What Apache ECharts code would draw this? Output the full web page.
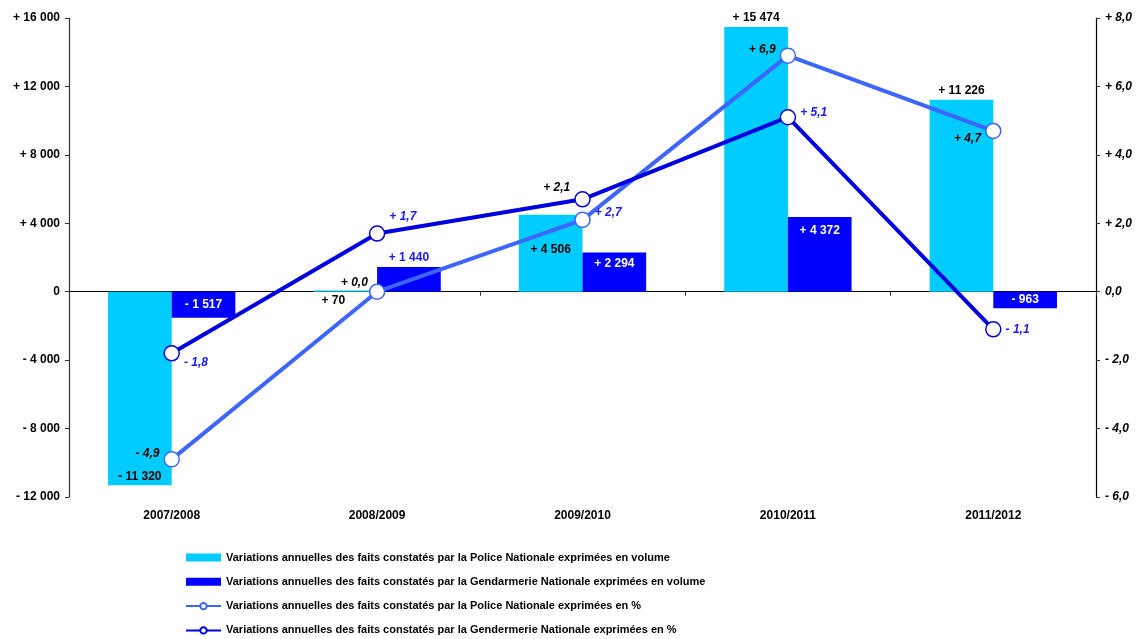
<!DOCTYPE html>
<html lang="fr">
<head>
    <meta charset="utf-8">
    <title>Variations annuelles des faits constatés</title>
    <style>
* {
  margin: 0;
  padding: 0;
}
#chart-container {
  position: relative;
  width: 1139px;
  height: 639px;
  overflow: hidden;
  background: #fff;
}
    </style>
</head>
<body>
<div id="chart-container"></div>
<script src="https://cdn.jsdelivr.net/npm/echarts@6/dist/echarts.min.js"></script>
<script>
// data
let years = ['2007/2008', '2008/2009', '2009/2010', '2010/2011', '2011/2012'];
let policeVol = [-11320, 70, 4506, 15474, 11226];
let gendVol = [-1517, 1440, 2294, 4372, -963];
let policePct = [-4.9, 0.0, 2.1, 6.9, 4.7];
let gendPct = [-1.8, 1.7, 2.7, 5.1, -1.1];

let names = [
  'Variations annuelles des faits constatés par la Police Nationale exprimées en volume',
  'Variations annuelles des faits constatés par la Gendarmerie Nationale exprimées en volume',
  'Variations annuelles des faits constatés par la Police Nationale exprimées en %',
  'Variations annuelles des faits constatés par la Gendermerie Nationale exprimées en %'
];

// label placement (style only)
let policeVolPos = [['insideBottom', [0, 0]], ['bottom', [-12, 0]], ['insideTop', [0, 26]], ['top', [0, 0]], ['top', [0, 0]]];
let gendVolPos = [['inside', [0, 0]], ['top', [0, 0]], ['insideTop', [0, 2]], ['insideTop', [0, 5]], ['inside', [0, 0]]];
let policePctOff = [[0, -6], [3, -9], [0, -32], [0, -6], [0, 8]];
let gendPctOff = [[0, 9], [0, -17], [0, 13], [0, -5], [0, 0]];

function groupThousands(n) {
  return String(n).replace(/\B(?=(\d{3})+(?!\d))/g, ' ');
}
function fmtVol(v) {
  if (v === 0) return '0';
  return (v > 0 ? '+ ' : '- ') + groupThousands(Math.abs(v));
}
function fmtPct(v, zeroPlain) {
  let s = Math.abs(v).toFixed(1).replace('.', ',');
  if (v === 0) return zeroPlain ? s : '+ ' + s;
  return (v > 0 ? '+ ' : '- ') + s;
}

let FONT = '"Liberation Sans", Arial, sans-serif';
let cPoliceBar = '#00ccff';
let cGendBar = '#0000ff';
let cPoliceLine = '#3d66ff';
let cGendLine = '#0000e0';

var dom = document.getElementById('chart-container');
var myChart = echarts.init(dom, null, { renderer: 'canvas' });

var option = {
  animation: false,
  textStyle: { fontFamily: FONT },
  grid: { left: 69, right: 43, top: 18, bottom: 142, containLabel: false },
  legend: {
    orient: 'vertical',
    left: 185,
    top: 552,
    height: 120,
    padding: 0,
    itemWidth: 35,
    itemHeight: 8,
    itemGap: 13.3,
    textStyle: { fontFamily: FONT, fontWeight: 'bold', fontSize: 11, color: '#000' },
    data: [
      { name: names[0], icon: 'rect' },
      { name: names[1], icon: 'rect' },
      { name: names[2] },
      { name: names[3] }
    ]
  },
  xAxis: [
    {
      type: 'category',
      data: years,
      position: 'bottom',
      axisLine: { show: false, onZero: false },
      axisTick: { show: false },
      axisLabel: { fontFamily: FONT, fontWeight: 'bold', fontSize: 12, color: '#000', margin: 13 }
    },
    {
      type: 'category',
      data: years,
      position: 'bottom',
      axisLine: { show: true, onZero: true, lineStyle: { color: '#000', width: 1.2 } },
      axisTick: { show: true, length: 4, lineStyle: { color: '#333' } },
      axisLabel: { show: false }
    }
  ],
  yAxis: [
    {
      type: 'value',
      min: -12000,
      max: 16000,
      interval: 4000,
      splitLine: { show: false },
      axisLine: { show: true, lineStyle: { color: '#333', width: 1.2 } },
      axisTick: { show: true, length: 4, lineStyle: { color: '#333' } },
      axisLabel: { fontFamily: FONT, fontWeight: 'bold', fontSize: 12, color: '#000', margin: 9, formatter: fmtVol }
    },
    {
      type: 'value',
      min: -6,
      max: 8,
      interval: 2,
      position: 'right',
      splitLine: { show: false },
      axisLine: { show: true, lineStyle: { color: '#000', width: 1.2 } },
      axisTick: { show: true, length: 4, lineStyle: { color: '#333' } },
      axisLabel: {
        fontFamily: FONT, fontWeight: 'bold', fontStyle: 'italic', fontSize: 12, color: '#000', margin: 9,
        formatter: function (v) { return fmtPct(v, true); }
      }
    }
  ],
  series: [
    {
      name: names[0],
      type: 'bar',
      xAxisIndex: 0,
      yAxisIndex: 0,
      barGap: '0%',
      barCategoryGap: '38%',
      itemStyle: { color: cPoliceBar },
      data: policeVol.map(function (v, i) {
        return {
          value: v,
          label: { show: true, position: policeVolPos[i][0], offset: policeVolPos[i][1] }
        };
      }),
      label: {
        show: true, fontFamily: FONT, fontWeight: 'bold', fontSize: 12, color: '#000', distance: 3,
        formatter: function (p) { return fmtVol(p.value); }
      }
    },
    {
      name: names[1],
      type: 'bar',
      xAxisIndex: 0,
      yAxisIndex: 0,
      barGap: '0%',
      barCategoryGap: '38%',
      itemStyle: { color: cGendBar },
      data: gendVol.map(function (v, i) {
        return {
          value: v,
          label: {
            show: true, position: gendVolPos[i][0], offset: gendVolPos[i][1],
            color: gendVolPos[i][0] === 'top' ? '#1a1aff' : '#fff'
          }
        };
      }),
      label: {
        show: true, fontFamily: FONT, fontWeight: 'bold', fontSize: 12, distance: 3,
        formatter: function (p) { return fmtVol(p.value); }
      }
    },
    {
      name: names[2],
      type: 'line',
      xAxisIndex: 0,
      yAxisIndex: 1,
      z: 5,
      symbol: 'circle',
      symbolSize: 15,
      lineStyle: { color: cPoliceLine, width: 4 },
      itemStyle: { color: '#fff', borderColor: cPoliceLine, borderWidth: 1.5 },
      data: policePct.map(function (v, i) {
        return { value: v, label: { offset: policePctOff[i] } };
      }),
      label: {
        show: true, position: 'left', distance: 4,
        fontFamily: FONT, fontWeight: 'bold', fontStyle: 'italic', fontSize: 12, color: '#000',
        formatter: function (p) { return fmtPct(p.value, false); }
      }
    },
    {
      name: names[3],
      type: 'line',
      xAxisIndex: 0,
      yAxisIndex: 1,
      z: 5,
      symbol: 'circle',
      symbolSize: 15,
      lineStyle: { color: cGendLine, width: 4 },
      itemStyle: { color: '#fff', borderColor: cGendLine, borderWidth: 1.5 },
      data: gendPct.map(function (v, i) {
        return { value: v, label: { offset: gendPctOff[i] } };
      }),
      label: {
        show: true, position: 'right', distance: 4,
        fontFamily: FONT, fontWeight: 'bold', fontStyle: 'italic', fontSize: 12, color: '#1a1aff',
        formatter: function (p) { return fmtPct(p.value, false); }
      }
    }
  ]
};

myChart.setOption(option);
window.addEventListener('resize', myChart.resize);
</script>
</body>
</html>
